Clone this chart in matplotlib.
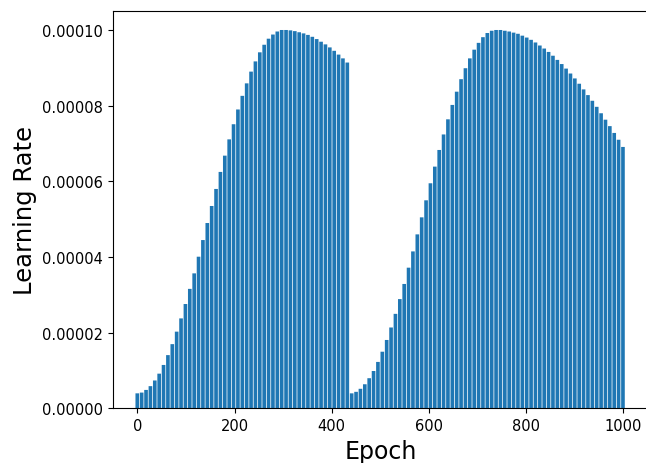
import matplotlib
matplotlib.use("Agg")
import matplotlib.pyplot as plt
import numpy as np

# Epoch positions (sampled every 9 epochs) for the two cycles
epochs_cycle1 = list(range(0, 433, 9))
epochs_cycle2 = list(range(441, 1000, 9))

# Learning rate values, in units of 1e-4
lr_cycle1 = [0.040, 0.042, 0.049, 0.059, 0.074, 0.092, 0.115, 0.141, 0.170, 0.203,
             0.238, 0.276, 0.316, 0.357, 0.401, 0.445, 0.490, 0.535, 0.580, 0.625,
             0.668, 0.711, 0.751, 0.790, 0.826, 0.859, 0.890, 0.917, 0.941, 0.961,
             0.977, 0.988, 0.996, 1.000, 1.000, 0.999, 0.997, 0.994, 0.991, 0.987,
             0.982, 0.976, 0.969, 0.962, 0.954, 0.945, 0.935, 0.925, 0.914]
lr_cycle2 = [0.040, 0.044, 0.052, 0.064, 0.080, 0.099, 0.123, 0.150, 0.181, 0.214,
             0.250, 0.289, 0.329, 0.372, 0.415, 0.460, 0.505, 0.550, 0.595, 0.639,
             0.683, 0.724, 0.764, 0.802, 0.837, 0.870, 0.899, 0.925, 0.948, 0.966,
             0.981, 0.992, 0.998, 1.000, 1.000, 0.998, 0.996, 0.993, 0.990, 0.985,
             0.980, 0.974, 0.967, 0.959, 0.951, 0.942, 0.932, 0.921, 0.910, 0.898,
             0.885, 0.872, 0.858, 0.843, 0.828, 0.813, 0.797, 0.780, 0.763, 0.746,
             0.728, 0.710, 0.691]

epochs = epochs_cycle1 + epochs_cycle2
lr = np.array(lr_cycle1 + lr_cycle2) * 1e-4

fig = plt.figure(figsize=(6.46, 4.64), dpi=100)
ax = fig.add_axes([0.1746, 0.1175, 0.8300, 0.8565])
bars = ax.bar(epochs, lr, width=7.5, color="#1f77b4", linewidth=0)
for b in bars:
    b.set_snap(False)
ax.set_xlim(-50.4, 1052.5)
ax.set_ylim(0, 1.05e-4)
ax.spines["right"].set_visible(False)
ax.set_yticks([0, 2e-5, 4e-5, 6e-5, 8e-5, 1e-4])
ax.set_yticklabels(["0.00000", "0.00002", "0.00004", "0.00006", "0.00008", "0.00010"])
ax.set_xticks([0, 200, 400, 600, 800, 1000])
ax.tick_params(labelsize=10.5)
ax.set_xlabel("Epoch", fontsize=17)
ax.set_ylabel("Learning Rate", fontsize=17.5)
fig.savefig("out.png", dpi=100)
